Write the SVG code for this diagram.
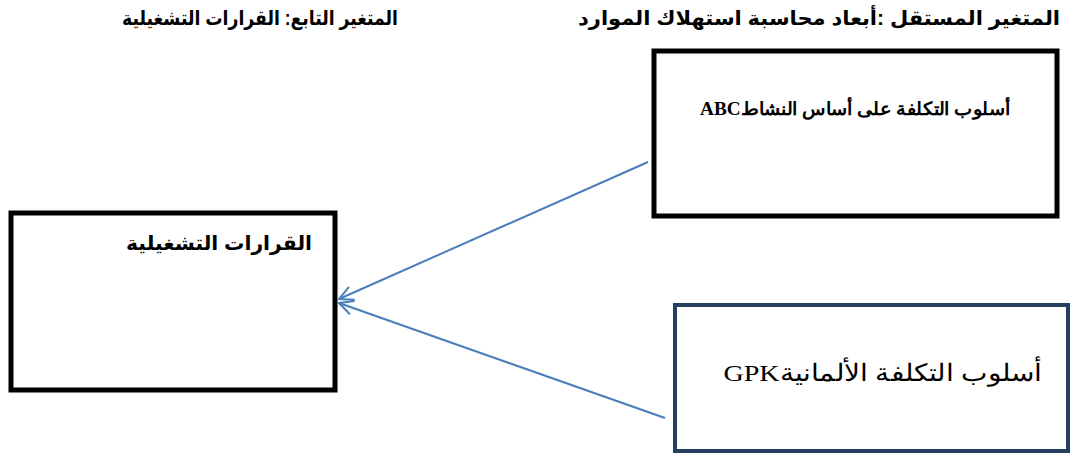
<svg xmlns="http://www.w3.org/2000/svg" width="1074" height="460" viewBox="0 0 1074 460">
<defs>
<style>
.box{fill:#fff;stroke:#000;stroke-width:5}
.navy{fill:#fff;stroke:#243F60;stroke-width:4}
.title{font-family:"Liberation Sans","DejaVu Sans",sans-serif;font-weight:bold;font-size:20px;fill:#000}
.serif{font-family:"Liberation Serif","DejaVu Serif","Noto Sans",serif;fill:#000}
.conn{stroke:#4A7EBB;stroke-width:2;fill:none}
</style>
<marker id="arr" viewBox="0 0 16 16" refX="15" refY="8" markerWidth="16" markerHeight="16" markerUnits="userSpaceOnUse" orient="auto">
<path d="M1,1 L15,8 L1,15" fill="none" stroke="#4A7EBB" stroke-width="2"/>
</marker>
</defs>
<rect width="1074" height="460" fill="#fff"/>
<text class="title" x="260" y="25" font-size="19" text-anchor="middle" direction="rtl" textLength="276" lengthAdjust="spacingAndGlyphs">المتغير التابع: القرارات التشغيلية</text>
<text class="title" x="819" y="25" text-anchor="middle" direction="rtl" textLength="482" lengthAdjust="spacingAndGlyphs">المتغير المستقل :أبعاد محاسبة استهلاك الموارد</text>
<g id="node-abc">
<rect class="box" x="654" y="51" width="403" height="165"/>
<text class="serif" x="855" y="115" font-size="18" font-weight="bold" text-anchor="middle" direction="rtl" textLength="310" lengthAdjust="spacingAndGlyphs">أسلوب التكلفة على أساس النشاطABC</text>
</g>
<g id="node-decisions">
<rect class="box" x="11" y="213" width="324" height="177"/>
<text class="title" x="219" y="250" text-anchor="middle" direction="rtl" textLength="186" lengthAdjust="spacingAndGlyphs">القرارات التشغيلية</text>
</g>
<g id="node-gpk">
<rect class="navy" x="675" y="305" width="393" height="146"/>
<text class="serif" x="883" y="381" font-size="24" text-anchor="middle" direction="rtl" textLength="319" lengthAdjust="spacingAndGlyphs">أسلوب التكلفة الألمانيةGPK</text>
</g>
<g id="connectors">
<line class="conn" x1="648" y1="162" x2="339" y2="299" marker-end="url(#arr)"/>
<line class="conn" x1="665" y1="418" x2="339" y2="303" marker-end="url(#arr)"/>
</g>
</svg>
